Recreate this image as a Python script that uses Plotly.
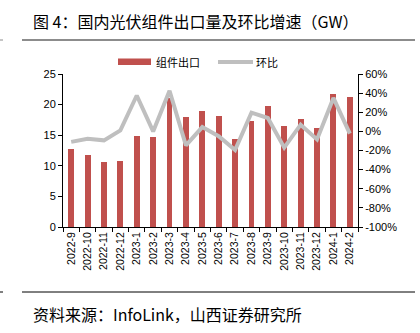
import plotly.graph_objects as go

months = ["2022-9", "2022-10", "2022-11", "2022-12", "2023-1", "2023-2", "2023-3", "2023-4",
          "2023-5", "2023-6", "2023-7", "2023-8", "2023-9", "2023-10", "2023-11", "2023-12",
          "2024-1", "2024-2"]
exports_gw = [12.7, 11.7, 10.6, 10.8, 14.8, 14.7, 21.1, 18.0, 18.95, 18.1, 14.4, 17.3, 19.8,
              16.5, 17.7, 16.2, 21.8, 21.2]
mom_pct = [-11, -7.7, -9.4, 1.0, 37.5, 0, 42.5, -14.7, 4.5, -5, -19.5, 19.6, 14, -17, 7, -8.4, 35, -2.4]
left_ticks = [0, 5, 10, 15, 20, 25]
right_ticks = [-100, -80, -60, -40, -20, 0, 20, 40, 60]

RED = "#C0504D"
GRAY = "#BFBFBF"
CJK = "Noto Sans CJK SC"
LAT = "Liberation Sans"

W, H = 420, 333
L, R, T, B = 63, 358, 74, 227

def px(x):
    return (x - L) / (R - L)

def py(y):
    return (B - y) / (B - T)

fig = go.Figure()
fig.add_trace(go.Bar(x=months, y=exports_gw, name="组件出口", marker=dict(color=RED, line=dict(width=0)),
                     width=0.36, yaxis="y", showlegend=False))
fig.add_trace(go.Scatter(x=months, y=mom_pct, name="环比", mode="lines",
                         line=dict(color=GRAY, width=4), yaxis="y2", showlegend=False))

axis_common = dict(showgrid=False, zeroline=False, showline=True, linecolor="#000000", linewidth=1,
                   ticks="outside", ticklen=4, tickcolor="#000000", tickwidth=1,
                   tickfont=dict(family=LAT, size=11, color="#000000"))

fig.update_layout(
    width=W, height=H,
    margin=dict(l=L, r=W - R, t=T, b=H - B, pad=0),
    paper_bgcolor="white", plot_bgcolor="white",
    xaxis=dict(type="category", tickangle=-90, tickson="boundaries", showgrid=False,
               showline=True, linecolor="#000000", linewidth=1, ticks="outside", ticklen=4,
               tickcolor="#000000", tickfont=dict(family=LAT, size=10.5, color="#000000")),
    yaxis=dict(range=[0, 25], tickvals=left_ticks, **axis_common),
    yaxis2=dict(range=[-100, 60], tickvals=right_ticks, ticktext=[f"{v}%" for v in right_ticks],
                overlaying="y", side="right", **axis_common),
    bargap=0,
)

shapes = [
    dict(type="line", xref="paper", yref="paper", x0=px(22), x1=px(415), y0=py(40), y1=py(40),
         line=dict(color="#8C8C8C", width=2)),
    dict(type="line", xref="paper", yref="paper", x0=px(0), x1=px(3), y0=py(40), y1=py(40),
         line=dict(color="#8C8C8C", width=1)),
    dict(type="line", xref="paper", yref="paper", x0=px(22), x1=px(415), y0=py(292), y1=py(292),
         line=dict(color="#000000", width=1)),
    dict(type="line", xref="paper", yref="paper", x0=px(0), x1=px(3), y0=py(292), y1=py(292),
         line=dict(color="#000000", width=1)),
    dict(type="rect", xref="paper", yref="paper", x0=px(118), x1=px(151), y0=py(65), y1=py(58.5),
         fillcolor=RED, line=dict(width=0)),
    dict(type="line", xref="paper", yref="paper", x0=px(218), x1=px(253), y0=py(62), y1=py(62),
         line=dict(color=GRAY, width=4)),
]

annotations = [
    dict(text="图 4：国内光伏组件出口量及环比增速（GW）", xref="paper", yref="paper", x=px(31), y=py(21),
         xanchor="left", yanchor="middle", showarrow=False, font=dict(family=CJK, size=16, color="#000000")),
    dict(text="资料来源：InfoLink，山西证券研究所", xref="paper", yref="paper", x=px(31), y=py(314),
         xanchor="left", yanchor="middle", showarrow=False, font=dict(family=CJK, size=16, color="#000000")),
    dict(text="组件出口", xref="paper", yref="paper", x=px(154), y=py(62),
         xanchor="left", yanchor="middle", showarrow=False, font=dict(family=CJK, size=11, color="#000000")),
    dict(text="环比", xref="paper", yref="paper", x=px(254), y=py(62),
         xanchor="left", yanchor="middle", showarrow=False, font=dict(family=CJK, size=11, color="#000000")),
]
fig.update_layout(shapes=shapes, annotations=annotations)

fig.write_html("out.html")
